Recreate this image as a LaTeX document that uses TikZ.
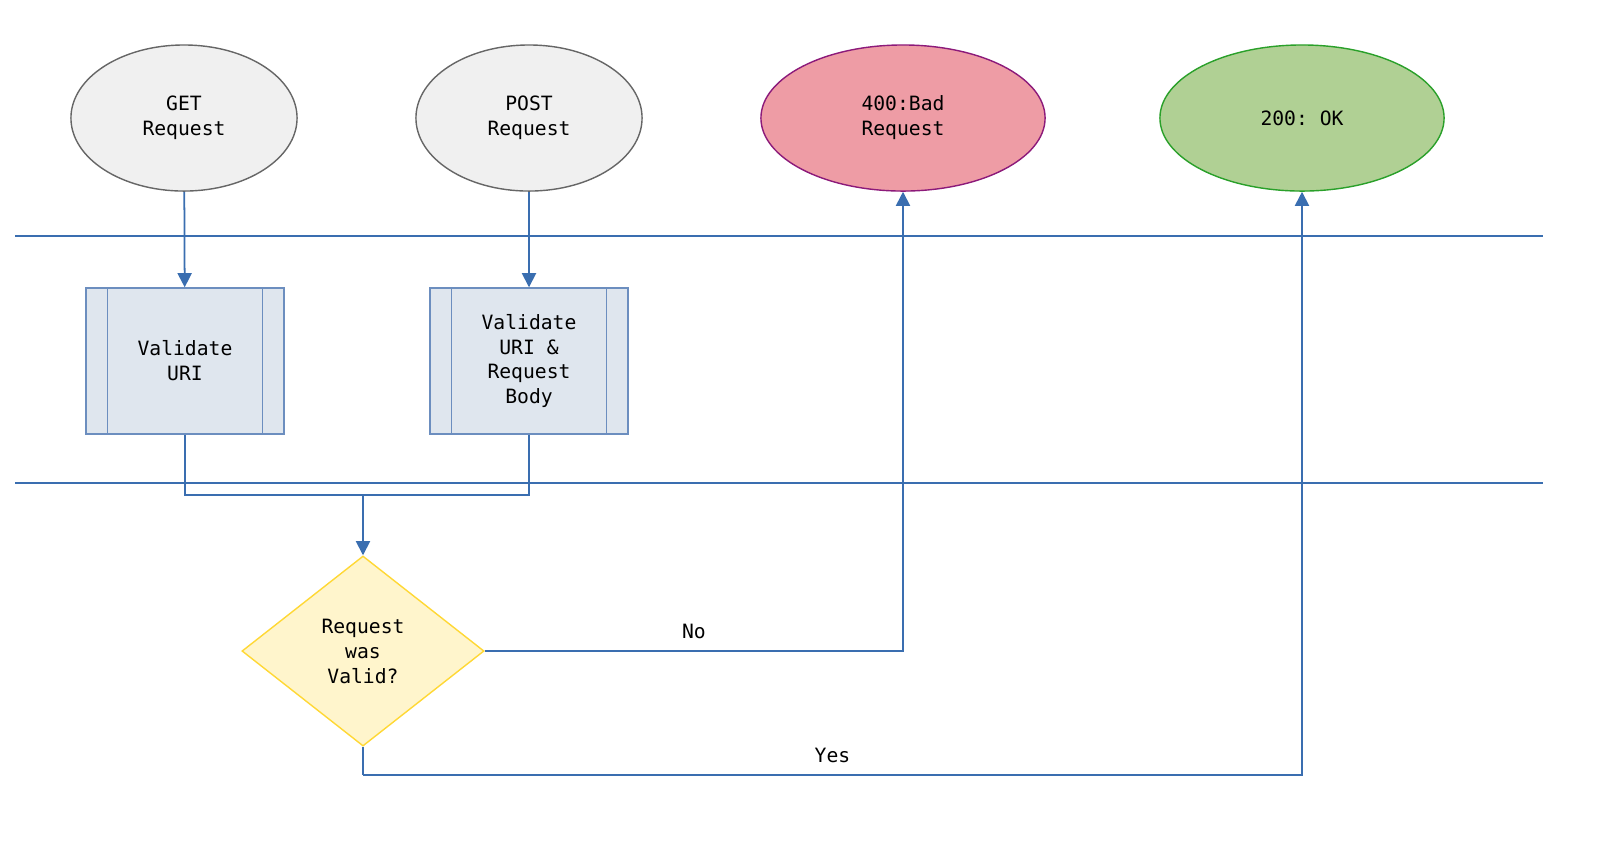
\documentclass[tikz,border=0pt]{standalone}
\usepackage{fontspec}
\setmonofont{DejaVu Sans Mono}
\usetikzlibrary{shapes.geometric,arrows.meta}
\definecolor{flow}{HTML}{3A6EB0}
\tikzset{
  every node/.style={font=\ttfamily\fontsize{5.6}{7.1}\selectfont,align=center},
  term/.style={ellipse,draw,inner sep=0pt,minimum width=#1},
  proc/.style={rectangle,draw=boxline,fill=boxfill,minimum width=1.98cm,minimum height=1.46cm,inner sep=0pt},
  link/.style={draw=flow,line width=0.5pt},
  arr/.style={link,-{Triangle[length=4pt,width=4pt]}}
}
\definecolor{boxfill}{HTML}{DFE6EE}
\definecolor{boxline}{HTML}{6C8EBF}
\begin{document}
\begin{tikzpicture}[x=0.01cm,y=-0.01cm]
  \useasboundingbox (0,0) rectangle (1600,847);
  \node(get)[term=2.26cm,minimum height=1.46cm,draw=black!60,fill=black!6] at (184,118){GET\\Request};
  \node(post)[term=2.26cm,minimum height=1.46cm,draw=black!60,fill=black!6] at (529,118){POST\\Request};
  \node(bad)[term=2.84cm,minimum height=1.46cm,draw={rgb,255:red,140;green,26;blue,122},fill={rgb,255:red,238;green,156;blue,165}] at (903,118){400:Bad\\Request};
  \node(ok)[term=2.84cm,minimum height=1.46cm,draw={rgb,255:red,42;green,160;blue,42},fill={rgb,255:red,176;green,208;blue,148}] at (1302,118){200: OK};
  \draw[flow] (15,236) -- (1543,236);
  \draw[flow] (15,483) -- (1543,483);
  \node(vuri)[proc] at (185,361){Validate\\URI};
  \node(vbody)[proc] at (529,361){Validate\\URI \&\\Request\\Body};
  \foreach \b in {vuri,vbody}{
    \draw[boxline] ([xshift=0.22cm]\b.north west) -- ([xshift=0.22cm]\b.south west);
    \draw[boxline] ([xshift=-0.22cm]\b.north east) -- ([xshift=-0.22cm]\b.south east);
  }
  \node(valid)[diamond,draw={rgb,255:red,255;green,216;blue,53},fill={rgb,255:red,255;green,245;blue,204},minimum width=2.42cm,minimum height=1.9cm,inner sep=0pt,aspect=1.27] at (363,651){Request\\was\\Valid?};
  \coordinate(merge) at (363,495);
  \coordinate(yes) at (363,775);
  \draw[arr] (get) -- (vuri);
  \draw[arr] (post) -- (vbody);
  \draw[link] (vuri.south) |- (merge);
  \draw[link] (vbody.south) |- (merge);
  \draw[arr] (merge) -- (valid.north);
  \draw[arr] (valid.east) -| node[pos=0.25,above]{No} (bad.south);
  \draw[link] (valid.south) -- (yes);
  \draw[arr] (yes) -| node[pos=0.25,above]{Yes} (ok.south);
\end{tikzpicture}
\end{document}
